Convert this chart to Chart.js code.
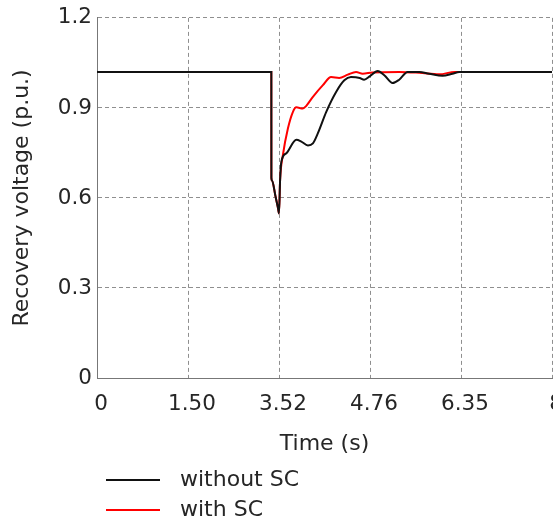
<!DOCTYPE html>
<html>
<head>
<meta charset="utf-8">
<script src="https://cdn.jsdelivr.net/npm/chart.js@4/dist/chart.umd.min.js"></script>
<style>
  body { margin: 0; background: #fff; }
  #wrap { width: 553px; height: 520px; }
</style>
</head>
<body>
<div id="wrap"><canvas id="voltageChart"></canvas></div>
<script>
// tick marks on the time axis (evenly spaced, labelled with event times)
const xTickValues = [0, 1.5, 3.52, 4.76, 6.35, 8];
const xTickLabels = ["0", "1.50", "3.52", "4.76", "6.35", "8"];
const yTickLabels = ["0", "0.3", "0.6", "0.9", "1.2"];

// without SC
const timeWithout = [0, 3.35, 3.351, 3.365, 3.44, 3.50, 3.52, 3.535, 3.553, 3.62, 3.756, 3.824, 3.914, 3.982, 4.05, 4.164, 4.30, 4.41, 4.50, 4.62, 4.68, 4.76, 4.894, 5.01, 5.155, 5.27, 5.417, 5.62, 5.795, 6.027, 6.20, 6.32, 8];
const voltWithout = [1.02, 1.02, 0.667, 0.658, 0.607, 0.565, 0.549, 0.66, 0.722, 0.749, 0.794, 0.788, 0.775, 0.782, 0.816, 0.887, 0.954, 0.992, 1.003, 1.0, 0.994, 1.006, 1.023, 1.009, 0.983, 0.994, 1.02, 1.02, 1.014, 1.007, 1.014, 1.02, 1.02];

// with SC
const timeWith = [0, 3.35, 3.351, 3.365, 3.44, 3.50, 3.52, 3.535, 3.574, 3.642, 3.71, 3.756, 3.846, 3.892, 3.982, 4.118, 4.23, 4.34, 4.457, 4.57, 4.66, 4.80, 5.27, 5.62, 5.97, 6.24, 8];
const voltWith = [1.02, 1.02, 0.667, 0.658, 0.607, 0.565, 0.549, 0.66, 0.744, 0.832, 0.887, 0.902, 0.898, 0.907, 0.937, 0.976, 1.003, 1.0, 1.011, 1.02, 1.014, 1.018, 1.02, 1.017, 1.012, 1.02, 1.02];

// place a time (s) on the evenly spaced axis, piecewise between ticks
function toAxis(t) {
  for (let i = 1; i < xTickValues.length; i++) {
    if (t <= xTickValues[i]) {
      return (i - 1) + (t - xTickValues[i - 1]) / (xTickValues[i] - xTickValues[i - 1]);
    }
  }
  return xTickValues.length - 1;
}

function points(times, volts) {
  return times.map((t, i) => ({ x: toAxis(t), y: volts[i] }));
}

const FONT = "'DejaVu Sans', sans-serif";
const TEXT = "#262626";

// legend drawn as a plain list under the axis title
const listLegend = {
  id: "listLegend",
  afterDraw(chart) {
    const ctx = chart.ctx;
    ctx.save();
    ctx.font = "22px " + FONT;
    ctx.textBaseline = "middle";
    ctx.fillStyle = TEXT;
    chart.data.datasets.forEach((ds, i) => {
      const y = 480 + i * 30;
      ctx.strokeStyle = ds.borderColor;
      ctx.lineWidth = 2;
      ctx.beginPath();
      ctx.moveTo(106, y);
      ctx.lineTo(160, y);
      ctx.stroke();
      ctx.fillText(ds.label, 180, y);
    });
    ctx.restore();
  }
};

const gridOpts = { color: "#8f8f8f", lineWidth: 1, drawTicks: false };
const borderOpts = { color: "#777", width: 1, dash: [4, 3] };

new Chart(document.getElementById("voltageChart"), {
  type: "line",
  data: {
    datasets: [
      {
        label: "without SC",
        data: points(timeWithout, voltWithout),
        borderColor: "#111111",
        borderWidth: 2,
        pointRadius: 0,
        cubicInterpolationMode: "monotone"
      },
      {
        label: "with SC",
        data: points(timeWith, voltWith),
        borderColor: "#ff0000",
        borderWidth: 2,
        pointRadius: 0,
        cubicInterpolationMode: "monotone"
      }
    ]
  },
  options: {
    responsive: true,
    maintainAspectRatio: false,
    animation: false,
    layout: { padding: { top: 16, right: 1, left: 0, bottom: 0 } },
    plugins: {
      legend: { display: false },
      tooltip: { enabled: false }
    },
    scales: {
      x: {
        type: "linear",
        min: 0,
        max: xTickValues.length - 1,
        afterBuildTicks: scale => {
          scale.ticks = xTickLabels.map((_, i) => ({ value: i }));
        },
        afterFit: scale => {
          scale.height = 142;
          scale.paddingLeft = 0;
          scale.paddingRight = 0;
        },
        ticks: {
          callback: v => xTickLabels[v],
          font: { family: FONT, size: 21.5 },
          color: TEXT,
          padding: 14,
          labelOffset: 4,
          maxRotation: 0,
          autoSkip: false
        },
        grid: gridOpts,
        border: borderOpts,
        title: {
          display: true,
          text: "Time (s)",
          font: { family: FONT, size: 22 },
          color: TEXT,
          padding: { top: 4, bottom: 63 }
        }
      },
      y: {
        min: 0,
        max: 1.2,
        afterBuildTicks: scale => {
          scale.ticks = yTickLabels.map(l => ({ value: parseFloat(l) }));
        },
        afterFit: scale => {
          scale.width = 97;
        },
        ticks: {
          callback: (v, i) => yTickLabels[i],
          font: { family: FONT, size: 21.5 },
          color: TEXT,
          padding: 5
        },
        grid: gridOpts,
        border: borderOpts,
        title: {
          display: true,
          text: "Recovery voltage (p.u.)",
          font: { family: FONT, size: 22 },
          color: TEXT,
          padding: { top: 9, bottom: 4 }
        }
      }
    }
  },
  plugins: [listLegend]
});
</script>
</body>
</html>
